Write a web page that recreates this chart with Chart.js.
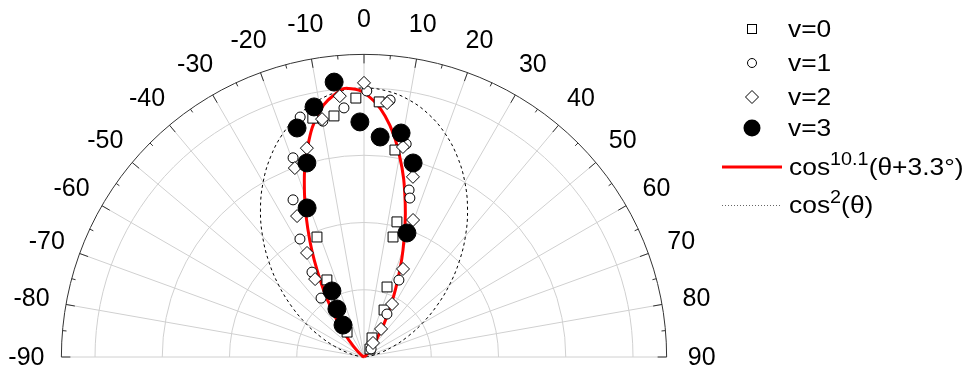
<!DOCTYPE html>
<html><head><meta charset="utf-8">
<script src="https://cdn.jsdelivr.net/npm/chart.js@4/dist/chart.umd.min.js"></script>
<style>
html,body{margin:0;padding:0;background:#fff;}
#wrap{position:relative;width:972px;height:367px;overflow:hidden;background:#fff;}
#c{position:absolute;left:0;top:0;}
.lg{position:absolute;left:788px;font-family:"Liberation Sans",Arial,sans-serif;font-size:24px;color:#000;line-height:28px;height:28px;white-space:nowrap;transform-origin:0 50%;transform:scaleX(1.1);}
.lg sup{font-size:18px;vertical-align:0;position:relative;top:-10px;}
.mk{position:absolute;}
</style></head><body>
<div id="wrap">
<canvas id="c" width="972" height="367"></canvas>
<svg class="mk" style="left:742px;top:19px" width="20" height="20"><rect x="5.5" y="5.5" width="9" height="9" fill="#fff" stroke="#000" stroke-width="1"/></svg>
<div class="lg" style="top:15px">v=0</div>
<svg class="mk" style="left:742px;top:53px" width="20" height="20"><circle cx="10" cy="10" r="4.5" fill="#fff" stroke="#000" stroke-width="1"/></svg>
<div class="lg" style="top:49px">v=1</div>
<svg class="mk" style="left:742px;top:87px" width="20" height="20"><polygon points="10,3.5 16.5,10 10,16.5 3.5,10" fill="#fff" stroke="#000" stroke-width="1"/></svg>
<div class="lg" style="top:83px">v=2</div>
<svg class="mk" style="left:742px;top:118px" width="20" height="20"><circle cx="10" cy="10" r="8.5" fill="#000"/></svg>
<div class="lg" style="top:114px">v=3</div>
<svg class="mk" style="left:720px;top:157px" width="64" height="20"><line x1="2" y1="10" x2="62" y2="10" stroke="#ff0000" stroke-width="3"/></svg>
<div class="lg" style="top:153px;left:789px">cos<sup>10.1</sup>(θ+3.3°)</div>
<svg class="mk" style="left:720px;top:195px" width="64" height="20"><line x1="2" y1="10.5" x2="62" y2="10.5" stroke="#666" stroke-width="1" stroke-dasharray="1,2"/></svg>
<div class="lg" style="top:191px;left:789px">cos<sup>2</sup>(θ)</div>
</div>
<script>
// ---- data (angles in degrees, normalized radius) ----
const angleTicks = [-90,-80,-70,-60,-50,-40,-30,-20,-10,0,10,20,30,40,50,60,70,80,90];
const gridRadii = [0.25, 0.5, 0.75, 1.0];
const outerRadius = 1.125;

const v0Theta = [-1.8, 3.4, -7.1, -12.1, 8.5, 13.7, 13.6, -21.4, -25.7, 18.2, 23.1, -34.2, 22.8, 36.9];
const v0R     = [0.963, 0.950, 0.903, 0.908, 0.778, 0.517, 0.459, 0.479, 0.318, 0.274, 0.190, 0.112, 0.077, 0.037];

const v1Theta = [0.6, 5.8, -4.6, -9.9, -14.9, -19.6, 11.2, 15.1, 16.1, -24.3, -28.5, -31.5, -36.1, 24.4, 28.1, 41.2];
const v1R     = [0.989, 0.960, 0.929, 0.890, 0.923, 0.786, 0.807, 0.643, 0.615, 0.641, 0.499, 0.370, 0.271, 0.314, 0.181, 0.040];

const v2Theta = [0, -5.3, 5.2, -10.0, -15.3, -20.1, 10.5, 15.2, -25.4, 19.7, -28.7, -32.1, 23.9, 27.9, 31.3, 32.7];
const v2R     = [1.019, 0.974, 0.948, 0.898, 0.805, 0.748, 0.794, 0.694, 0.580, 0.541, 0.441, 0.342, 0.358, 0.223, 0.122, 0.062];

const v3Theta = [-6.2, -11.3, -16.3, -1.0, 4.2, 9.4, -16.4, 14.2, -20.9, 19.1, -25.9, -29.4, -33.3];
const v3R     = [1.028, 0.948, 0.887, 0.874, 0.820, 0.844, 0.752, 0.744, 0.593, 0.488, 0.273, 0.205, 0.142];

const fitTheta = [-90, -70, -60, -55, -50, -45, -40, -35, -30, -25, -20, -15, -10, -5, -3.3, 0, 5, 10, 15, 20, 25, 30, 35, 40, 45, 50, 55, 60, 70, 90];
const fitR     = [0, 0.0001, 0.0023, 0.008, 0.022, 0.052, 0.107, 0.196, 0.320, 0.476, 0.647, 0.809, 0.933, 0.996, 1.0, 0.983, 0.899, 0.760, 0.592, 0.424, 0.277, 0.163, 0.087, 0.040, 0.016, 0.0055, 0.0015, 0.0003, 0, 0];

const cos2Theta = [-90,-85,-80,-75,-70,-65,-60,-55,-50,-45,-40,-35,-30,-25,-20,-15,-10,-5,0,5,10,15,20,25,30,35,40,45,50,55,60,65,70,75,80,85,90];
const cos2R     = [0,0.0076,0.0302,0.0670,0.1170,0.1786,0.25,0.3290,0.4132,0.5,0.5868,0.6710,0.75,0.8214,0.8830,0.9330,0.9698,0.9924,1,0.9924,0.9698,0.9330,0.8830,0.8214,0.75,0.6710,0.5868,0.5,0.4132,0.3290,0.25,0.1786,0.1170,0.0670,0.0302,0.0076,0];

// ---- layout ----
const CX = 364, CY = 357, UNIT = 269, W = 972, H = 367;
const FONT = '"Liberation Sans", Arial, sans-serif';

function toXY(th, r) {
  return th.map((a, i) => {
    const t = a * Math.PI / 180;
    return { x: r[i] * Math.sin(t), y: r[i] * Math.cos(t) };
  });
}

const polarGrid = {
  id: 'polarGrid',
  beforeDatasetsDraw(chart) {
    const { ctx, scales: { x, y } } = chart;
    const cx = x.getPixelForValue(0), cy = y.getPixelForValue(0);
    const u = x.getPixelForValue(1) - cx;
    const R = outerRadius * u;
    ctx.save();
    ctx.strokeStyle = '#d0d0d0';
    ctx.lineWidth = 1;
    gridRadii.forEach(r => {
      ctx.beginPath(); ctx.arc(cx, cy, r * u, Math.PI, 2 * Math.PI); ctx.stroke();
    });
    angleTicks.forEach(a => {
      const t = a * Math.PI / 180;
      ctx.beginPath(); ctx.moveTo(cx, cy);
      ctx.lineTo(cx + R * Math.sin(t), cy - R * Math.cos(t)); ctx.stroke();
    });
    ctx.strokeStyle = '#333';
    ctx.beginPath(); ctx.arc(cx, cy, R, Math.PI, 2 * Math.PI); ctx.stroke();
    for (let a = -90; a <= 90; a += 5) {
      const t = a * Math.PI / 180;
      const len = (a % 10 === 0) ? 9 : 4;
      ctx.beginPath();
      ctx.moveTo(cx + R * Math.sin(t), cy - R * Math.cos(t));
      ctx.lineTo(cx + (R - len) * Math.sin(t), cy - (R - len) * Math.cos(t));
      ctx.stroke();
    }
    ctx.fillStyle = '#000';
    ctx.font = '25px ' + FONT;
    ctx.textAlign = 'center';
    ctx.textBaseline = 'middle';
    const LR = R + 35;
    angleTicks.forEach(a => {
      const t = a * Math.PI / 180;
      ctx.fillText(String(a), cx + LR * Math.sin(t), cy - LR * Math.cos(t) + 1);
    });
    ctx.restore();
  }
};

new Chart(document.getElementById('c'), {
  type: 'scatter',
  data: {
    datasets: [
      { label: 'v=3', data: toXY(v3Theta, v3R), pointStyle: 'circle', pointRadius: 9, backgroundColor: '#000', borderColor: '#000', borderWidth: 1, order: 0 },
      { label: 'v=2', data: toXY(v2Theta, v2R), pointStyle: 'rectRot', pointRadius: 6.5, backgroundColor: '#fff', borderColor: '#000', borderWidth: 1, order: 1 },
      { label: 'v=1', data: toXY(v1Theta, v1R), pointStyle: 'circle', pointRadius: 5, backgroundColor: '#fff', borderColor: '#000', borderWidth: 1, order: 2 },
      { label: 'v=0', data: toXY(v0Theta, v0R), pointStyle: 'rect', pointRadius: 7, backgroundColor: '#fff', borderColor: '#000', borderWidth: 1, order: 3 },
      { label: 'fit', data: toXY(fitTheta, fitR), showLine: true, pointRadius: 0, borderColor: '#ff0000', borderWidth: 3, tension: 0.4, order: 4 },
      { label: 'cos2', data: toXY(cos2Theta, cos2R), showLine: true, pointRadius: 0, borderColor: '#000', borderWidth: 1, borderDash: [3, 3], tension: 0.4, order: 5 }
    ]
  },
  options: {
    responsive: false,
    devicePixelRatio: 1,
    animation: false,
    layout: { padding: 0, autoPadding: false },
    scales: {
      x: { type: 'linear', display: false, min: -CX / UNIT, max: (W - CX) / UNIT },
      y: { type: 'linear', display: false, min: -(H - CY) / UNIT, max: CY / UNIT }
    },
    plugins: { legend: { display: false }, tooltip: { enabled: false } },
    events: []
  },
  plugins: [polarGrid]
});
</script>
</body></html>
